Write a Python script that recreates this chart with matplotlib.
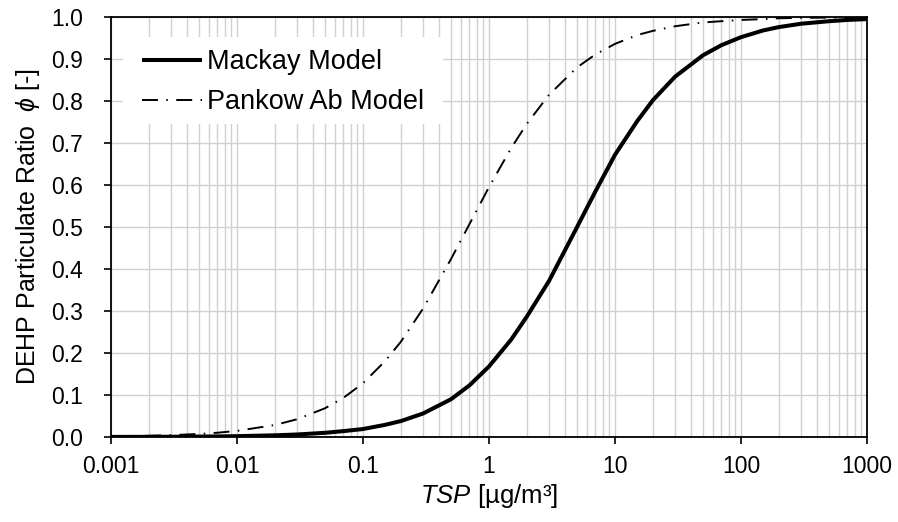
import matplotlib
matplotlib.use("Agg")
import matplotlib.pyplot as plt
from matplotlib.patches import Rectangle
from matplotlib.ticker import LogLocator, FixedLocator, NullFormatter

plt.rcParams['font.family'] = ['Liberation Sans', 'DejaVu Sans']
plt.rcParams['mathtext.fontset'] = 'custom'
plt.rcParams['mathtext.rm'] = 'Liberation Sans'
plt.rcParams['mathtext.it'] = 'Liberation Sans:italic'
plt.rcParams['mathtext.bf'] = 'Liberation Sans:bold'

# ---- data ----
tsp = [0.001, 0.002, 0.003, 0.005, 0.007, 0.01, 0.02, 0.03, 0.05, 0.07,
       0.1, 0.15, 0.2, 0.3, 0.5, 0.7, 1, 1.5, 2, 3, 5, 7, 10, 15, 20, 30,
       50, 70, 100, 150, 200, 300, 500, 700, 1000]
mackay = [0.0002, 0.0004, 0.0006, 0.001, 0.0014, 0.002, 0.004, 0.006, 0.010, 0.014,
          0.019, 0.029, 0.038, 0.056, 0.090, 0.123, 0.168, 0.232, 0.287, 0.372, 0.50,
          0.585, 0.672, 0.752, 0.802, 0.858, 0.909, 0.933, 0.952, 0.968, 0.976,
          0.984, 0.990, 0.993, 0.995]
pankow = [0.0015, 0.0029, 0.0044, 0.0073, 0.0102, 0.0145, 0.0286, 0.0423, 0.0685, 0.0933,
          0.128, 0.181, 0.227, 0.306, 0.424, 0.507, 0.595, 0.688, 0.746, 0.815, 0.880,
          0.911, 0.936, 0.957, 0.967, 0.978, 0.987, 0.990, 0.993, 0.995, 0.997,
          0.998, 0.9986, 0.999, 0.9993]
series_labels = ["Mackay Model", "Pankow Ab Model"]
x_ticks = [0.001, 0.01, 0.1, 1, 10, 100, 1000]
x_ticklabels = ["0.001", "0.01", "0.1", "1", "10", "100", "1000"]
y_ticks = [0.0, 0.1, 0.2, 0.3, 0.4, 0.5, 0.6, 0.7, 0.8, 0.9, 1.0]

fig = plt.figure(figsize=(8.98, 5.22), dpi=100)
ax = fig.add_axes([111/898, 1 - 437/522, 756/898, 420/522])

ax.plot(tsp, mackay, color='black', lw=2.9, solid_capstyle='butt', label=series_labels[0], zorder=4)
ax.plot(tsp, pankow, color='black', lw=1.4, linestyle=(0, (8.2, 4.3, 0.8, 4.3)),
        label=series_labels[1], zorder=4)

ax.set_xscale('log')
ax.set_xlim(0.001, 1000)
ax.set_ylim(0, 1)
ax.xaxis.set_major_locator(FixedLocator(x_ticks))
ax.set_xticklabels(x_ticklabels)
ax.xaxis.set_minor_locator(LogLocator(base=10, subs=range(2, 10)))
ax.xaxis.set_minor_formatter(NullFormatter())
ax.set_yticks(y_ticks)
ax.set_yticklabels([f"{v:.1f}" for v in y_ticks])

grid_color = '#d0d0d0'
ax.grid(True, which='major', axis='both', color=grid_color, lw=1.0, zorder=0)
ax.grid(True, which='minor', axis='x', color=grid_color, lw=1.0, zorder=0)
ax.set_axisbelow(True)

ax.tick_params(axis='both', which='major', direction='out', length=5, width=1.2,
               labelsize=16.5, color='black')
ax.tick_params(axis='x', which='major', pad=8)
ax.tick_params(axis='y', which='major', pad=15)
ax.tick_params(axis='x', which='minor', length=0)
for s in ax.spines.values():
    s.set_linewidth(1.3)
    s.set_color('black')

ax.set_xlabel(r'$TSP$ [µg/m³]', fontsize=18.5, labelpad=3)
ax.set_ylabel(r'DEHP Particulate Ratio  $\phi$ [-]', fontsize=18, labelpad=7)

# white legend background
ax.add_patch(Rectangle(((123-111)/756, (437-124)/420), (443-123)/756, (124-37)/420,
                       transform=ax.transAxes, facecolor='white', edgecolor='none', zorder=2))
leg = ax.legend(loc='upper left', bbox_to_anchor=((142-111)/756, (437-49)/420),
                frameon=False, fontsize=19.5, borderpad=0, borderaxespad=0,
                handlelength=2.2, handletextpad=0.2, labelspacing=0.53)
leg.set_zorder(5)

fig.savefig('out.png', dpi=100)
